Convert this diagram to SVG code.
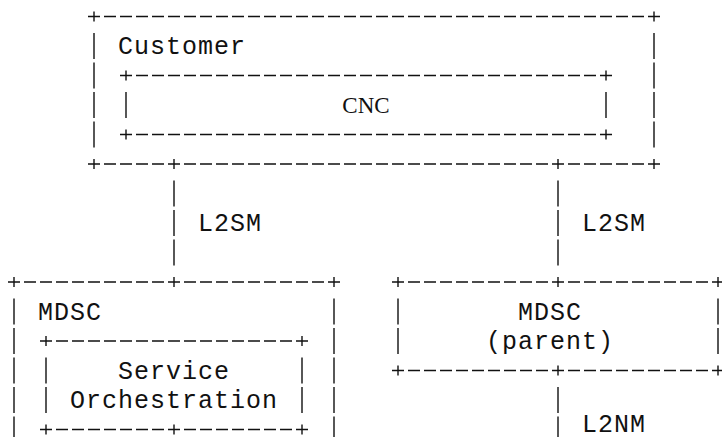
<svg xmlns="http://www.w3.org/2000/svg" width="722" height="437" viewBox="0 0 722 437">
<style>
.h{stroke:#111;stroke-width:1.4;stroke-dasharray:12 4;fill:none}
.v{stroke:#111;stroke-width:1.4;stroke-dasharray:26 3.5;fill:none}
.p{stroke:#111;stroke-width:1.4;fill:none}
.t{font-family:"Liberation Mono","DejaVu Sans Mono",monospace;font-size:25px;letter-spacing:1px;fill:#111}
.s{font-family:"Liberation Serif","DejaVu Serif",serif;font-size:23px;fill:#111}
</style>
<rect width="722" height="437" fill="#fff"/>
<g id="customer">
<line class="h" x1="88" y1="16.5" x2="660" y2="16.5"/>
<line class="h" x1="88" y1="164" x2="660" y2="164"/>
<line class="v" x1="94" y1="33" x2="94" y2="147.5"/>
<line class="v" x1="654" y1="33" x2="654" y2="147.5"/>
<path class="p" d="M94 11.5v10M654 11.5v10M94 159v10M654 159v10M174 159v10M558 159v10"/>
<text class="t" x="118" y="54.3">Customer</text>
</g>
<g id="cnc">
<line class="h" x1="120" y1="75.5" x2="612" y2="75.5"/>
<line class="h" x1="120" y1="134.5" x2="612" y2="134.5"/>
<line class="v" x1="126" y1="92" x2="126" y2="118"/>
<line class="v" x1="606" y1="92" x2="606" y2="118"/>
<path class="p" d="M126 70.5v10M606 70.5v10M126 129.5v10M606 129.5v10"/>
<text class="s" x="366" y="113.3" text-anchor="middle">CNC</text>
</g>
<g id="mdsc">
<line class="h" x1="8" y1="282" x2="340" y2="282"/>
<line class="v" x1="14" y1="298.5" x2="14" y2="442.5"/>
<line class="v" x1="334" y1="298.5" x2="334" y2="442.5"/>
<path class="p" d="M14 277v10M174 277v10M334 277v10"/>
<text class="t" x="38" y="319.8">MDSC</text>
</g>
<g id="service-orchestration">
<line class="h" x1="40" y1="341" x2="308" y2="341"/>
<line class="h" x1="40" y1="429.5" x2="308" y2="429.5"/>
<line class="v" x1="46" y1="357.5" x2="46" y2="413"/>
<line class="v" x1="302" y1="357.5" x2="302" y2="413"/>
<path class="p" d="M46 336v10M302 336v10M46 424.5v10M174 424.5v10M302 424.5v10"/>
<text class="t" x="118" y="378.8">Service</text>
<text class="t" x="70" y="408.3">Orchestration</text>
</g>
<g id="mdsc-parent">
<line class="h" x1="392" y1="282" x2="724" y2="282"/>
<line class="h" x1="392" y1="370.5" x2="724" y2="370.5"/>
<line class="v" x1="398" y1="298.5" x2="398" y2="354"/>
<line class="v" x1="718" y1="298.5" x2="718" y2="354"/>
<path class="p" d="M398 277v10M558 277v10M718 277v10M398 365.5v10M558 365.5v10M718 365.5v10"/>
<text class="t" x="518" y="319.8">MDSC</text>
<text class="t" x="486" y="349.3">(parent)</text>
</g>
<g id="connectors">
<line class="v" x1="174" y1="180.5" x2="174" y2="265.5"/>
<line class="v" x1="558" y1="180.5" x2="558" y2="265.5"/>
<line class="v" x1="558" y1="387" x2="558" y2="442.5"/>
<text class="t" x="198" y="231.3">L2SM</text>
<text class="t" x="582" y="231.3">L2SM</text>
<text class="t" x="582" y="432">L2NM</text>
</g>
</svg>
